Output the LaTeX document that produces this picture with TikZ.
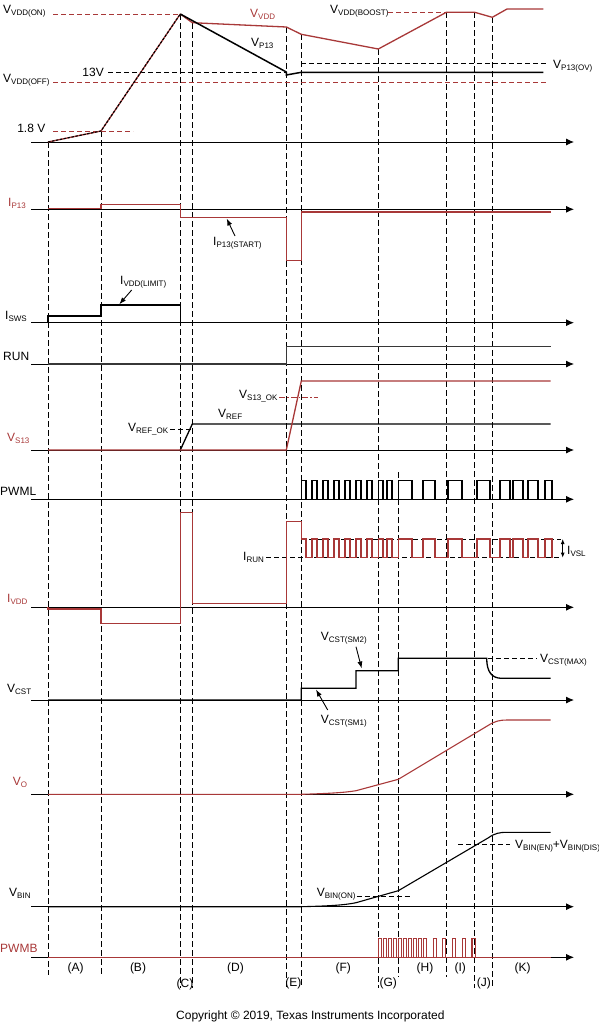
\documentclass[tikz,border=0pt]{standalone}
\usepackage{fontspec}
\setmainfont{Liberation Sans}
\usetikzlibrary{arrows.meta}
\definecolor{tired}{RGB}{168,56,56}
\definecolor{rundark}{RGB}{55,55,55}
\newcommand{\lsub}[1]{\raisebox{-2pt}{\fontsize{8}{9}\selectfont #1}}
\begin{document}
\begin{tikzpicture}[x=1pt,y=-1pt,
  axis/.style={line width=0.9pt,-{Latex[length=8pt,width=7pt]}},
  sig/.style={line width=1.3pt,line join=miter},
  rsig/.style={sig,draw=tired},
  guide/.style={line width=0.9pt,dash pattern=on 5pt off 3pt},
  rguide/.style={guide,draw=tired},
  phase/.style={line width=0.9pt,dash pattern=on 6pt off 3pt},
  ann/.style={line width=0.9pt,-{Latex[length=7pt,width=5pt]}},
  lbl/.style={inner sep=0pt,anchor=base west,font=\fontsize{12}{14}\selectfont},
  rlbl/.style={lbl,text=tired},
  plbl/.style={inner sep=0pt,font=\fontsize{12}{14}\selectfont}]
\useasboundingbox (0,0) rectangle (598,1023);

% phase boundary lines
\foreach \n/\x/\ya/\yb in {A/48/142/975, B/101/131/975, C1/180.3/14/988, C2/192.3/23/988, E1/286.3/27/988, E2/301.3/34.3/988, G1/378.3/49/988, G2/398.3/472/977, H/446.3/12.3/977, I/474.7/12.3/988, J/492.3/17.3/988}{
  \coordinate (t\n) at (\x,\ya);
  \coordinate (b\n) at (\x,\yb);
  \draw[phase] (t\n) -- (b\n);
}

% axes
\foreach \n/\y in {v/142, ip/209.3, isws/322.7, run/364, vs/450, pwml/499.3, ivdd/607.3, vcst/700, vo/794.3, vbin/906.7, pwmb/957.3}{
  \coordinate (\n S) at (31,\y);
  \coordinate (\n E) at (574,\y);
  \draw[axis] (\n S) -- (\n E);
}

% ---------- VDD / VP13 ----------
\draw[rguide] (53,14) -- (180.3,14);
\draw[rguide] (53,82) -- (547,82);
\draw[rguide] (53,131) -- (133,131);
\draw[guide] (108,72) -- (286.3,72);
\draw[guide] (301.3,63.3) -- (547,63.3);
\draw[rguide] (388,12.3) -- (446.3,12.3);
\draw[rsig] (48,142) -- (101,131) -- (180.3,14);
\draw[line width=1.1pt,dash pattern=on 2.5pt off 1.5pt] (48,142) -- (101,131) -- (180.3,14);
\draw[rsig] (180.3,14) -- (192.3,22.7) -- (286.3,27) -- (301.3,34.3) -- (378.3,49) -- (446.3,12.3) -- (474.7,12.3) -- (492.3,17.3) -- (507,9) -- (543.3,9);
\draw[sig,line width=1.5pt] (180.3,14) -- (286.3,72) -- (286.3,75) -- (301.3,72.3) -- (543.3,72.3);
\node[lbl] (lVon) at (3,13.5) {V\lsub{VDD(ON)}};
\node[lbl] (lVoff) at (3,82.5) {V\lsub{VDD(OFF)}};
\node[lbl,anchor=base east] (l13) at (104,76) {13V};
\node[lbl,anchor=base east] (l18) at (45.5,132.7) {1.8 V};
\node[rlbl] (lVdd) at (250,17.5) {V\lsub{VDD}};
\node[lbl] (lVp13) at (251,46.5) {V\lsub{P13}};
\node[lbl] (lBoost) at (330,13) {V\lsub{VDD(BOOST)}};
\node[lbl] (lOV) at (553,68.5) {V\lsub{P13(OV)}};

% ---------- IP13 ----------
\draw[rsig] (48,208.3) -- (101,208.3) -- (101,204.3) -- (180.3,204.3) -- (180.3,217.3) -- (286.3,217.3) -- (286.3,260.7) -- (301.3,260.7) -- (301.3,212) -- (551,212);
\node[rlbl] (lIp13) at (8,206) {I\lsub{P13}};
\node[lbl] (lIst) at (213,245.5) {I\lsub{P13(START)}};
\coordinate (aSt1) at (235,236);
\coordinate (aSt2) at (226.7,218.5);
\draw[ann] (aSt1) -- (aSt2);

% ---------- ISWS ----------
\draw[sig] (48,322.7) -- (48,316) -- (101,316) -- (101,305) -- (180.3,305) -- (180.3,322.7) -- (551,322.7);
\node[lbl] (lIsws) at (5,319.5) {I\lsub{SWS}};
\node[lbl] (lIlim) at (120,284) {I\lsub{VDD(LIMIT)}};
\coordinate (aLim1) at (131.7,290);
\coordinate (aLim2) at (119.3,304.3);
\draw[ann] (aLim1) -- (aLim2);

% ---------- RUN ----------
\draw[sig,draw=rundark] (48,364) -- (286.3,364) -- (286.3,346.7) -- (550.7,346.7);
\node[lbl] (lRun) at (3,360.5) {RUN};

% ---------- VS13 / VREF ----------
\draw[guide] (170,429) -- (193,429);
\draw[rguide,dash pattern=on 6pt off 2pt on 1.5pt off 2pt] (279.3,397.3) -- (318.3,397.3);
\draw[sig] (180.3,450) -- (192.3,424) -- (550.7,424);
\draw[rsig] (48,450) -- (286.3,450) -- (301.3,381) -- (550.7,381);
\node[lbl] (lVref) at (218,417.5) {V\lsub{REF}};
\node[lbl] (lVrefok) at (128,431.7) {V\lsub{REF\_OK}};
\node[lbl] (lVs13ok) at (239,398.3) {V\lsub{S13\_OK}};
\node[rlbl] (lVs13) at (7,441.5) {V\lsub{S13}};

% ---------- PWML ----------
\draw[sig] (48,499.3) -- (552,499.3);
\foreach \a/\b in {301.3/306, 312/317, 323/328, 334/339, 345/350, 356/361, 367/372, 378.3/383, 387/392, 398.3/412, 423/435, 448/462, 477/490, 500/510, 513/523, 528/538, 545/552}{
  \draw[sig] (\a,499.3) -- (\a,480.7) -- (\b,480.7) -- (\b,499.3);
}
\node[lbl] (lPwml) at (0,495) {PWML};

% ---------- IVDD ----------
\draw[guide] (266,557.7) -- (561,557.7);
\draw[guide] (301.3,539) -- (561,539);
\draw[rsig] (48,607.3) -- (48,609) -- (101,609) -- (101,623.3) -- (180.3,623.3) -- (180.3,512.7) -- (192.3,512.7) -- (192.3,603.3) -- (286.3,603.3) -- (286.3,521.7) -- (301.3,521.7) -- (301.3,539)
  \foreach \b/\c in {306/312, 317/323, 328/334, 339/345, 350/356, 361/367, 372/378.3, 383/387, 392/398.3, 412/423, 435/448, 462/477, 490/500, 510/513, 523/528, 538/545}{ -- (\b,539) -- (\b,557.7) -- (\c,557.7) -- (\c,539)} -- (552,539) -- (552,557.7);
\coordinate (vslT) at (562.7,539);
\coordinate (vslB) at (562.7,557.7);
\draw[line width=0.9pt,{Latex[length=5pt,width=4pt]}-{Latex[length=5pt,width=4pt]}] (vslT) -- (vslB);
\node[lbl] (lIvsl) at (567,554) {I\lsub{VSL}};
\node[lbl] (lIrun) at (243,560) {I\lsub{RUN}};
\node[rlbl] (lIvdd) at (7,602.5) {I\lsub{VDD}};

% ---------- VCST ----------
\draw[guide] (488,658.3) -- (537,658.3);
\draw[sig] (48,700) -- (301.3,700) -- (301.3,688.3) -- (356,688.3) -- (356,670.7) -- (398.3,670.7) -- (398.3,658.3) -- (486.7,658.3) .. controls (486.7,672) and (492,678.3) .. (501.7,678.3) -- (550.7,678.3);
\node[lbl] (lVcst) at (7,692.5) {V\lsub{CST}};
\node[lbl] (lSM2) at (320.7,640) {V\lsub{CST(SM2)}};
\node[lbl] (lSM1) at (320.7,723.3) {V\lsub{CST(SM1)}};
\node[lbl] (lMax) at (540,662.7) {V\lsub{CST(MAX)}};
\coordinate (aS2a) at (356,646.7);
\coordinate (aS2b) at (361.7,668.5);
\coordinate (aS1a) at (327.7,710);
\coordinate (aS1b) at (316,689.5);
\draw[ann] (aS2a) -- (aS2b);
\draw[ann] (aS1a) -- (aS1b);

% ---------- VO ----------
\draw[rsig,line width=1.1pt] (48,794.3) -- (301.3,794.3) .. controls (330,793.5) and (345,792.5) .. (356,790.7) -- (398.3,779.3) -- (488,725.5) .. controls (495,721) and (500,720) .. (507,720) -- (550.7,720);
\node[rlbl] (lVo) at (12.7,785) {V\lsub{O}};

% ---------- VBIN ----------
\draw[guide] (356.7,896.7) -- (411.7,896.7);
\draw[guide] (458.3,844) -- (510,844);
\draw[sig,line width=1.1pt] (48,906.7) -- (301.3,906.7) .. controls (330,906) and (345,905) .. (356,902.7) -- (398.3,890.7) -- (488,838) .. controls (495,833) and (500,832.3) .. (507,832.3) -- (550.7,832.3);
\node[lbl] (lVbin) at (9,896.7) {V\lsub{BIN}};
\node[lbl] (lVbinon) at (316.7,896.7) {V\lsub{BIN(ON)}};
\node[lbl] (lVbinen) at (515,848) {V\lsub{BIN(EN)}+V\lsub{BIN(DIS)}};

% ---------- PWMB ----------
\draw[rsig] (48,957.3) -- (551,957.3);
\foreach \a/\b in {378.3/381.7, 383.3/386.7, 388.3/391.7, 393.3/396.7, 398.3/401.7, 403.3/406.7, 408.3/411.7, 413.3/416.7, 418.3/421.7, 423.3/426.7, 433.3/436.7, 442.3/445.7, 452.3/455.7, 462.3/465.7, 472/475.7}{
  \draw[rsig,line width=1.1pt] (\a,957.3) -- (\a,938.3) -- (\b,938.3) -- (\b,957.3);
}
\node[rlbl] (lPwmb) at (0,952.7) {PWMB};

% ---------- phase labels ----------
\node[plbl] (pA) at (75.7,968.3) {(A)};
\node[plbl] (pB) at (138,968.3) {(B)};
\node[plbl] (pC) at (185,984.2) {(C)};
\node[plbl] (pD) at (235.5,968.3) {(D)};
\node[plbl] (pE) at (293.3,983.3) {(E)};
\node[plbl] (pF) at (343.3,968.3) {(F)};
\node[plbl] (pG) at (388.3,983.3) {(G)};
\node[plbl] (pH) at (425,968.3) {(H)};
\node[plbl] (pI) at (460.3,968.3) {(I)};
\node[plbl] (pJ) at (483.8,983.3) {(J)};
\node[plbl] (pK) at (522.5,968.3) {(K)};

\node[lbl] (copy) at (176,1019) {Copyright © 2019, Texas Instruments Incorporated};
\end{tikzpicture}
\end{document}
